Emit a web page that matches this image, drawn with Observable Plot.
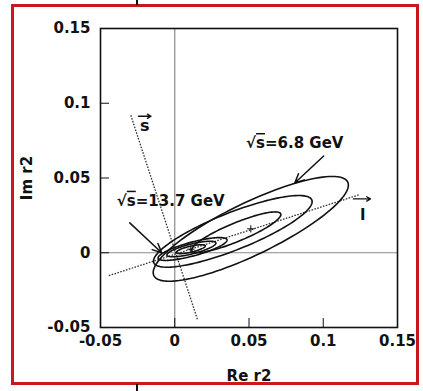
<!DOCTYPE html>
<html>
<head>
<meta charset="utf-8">
<script src="https://cdn.jsdelivr.net/npm/d3@7"></script>
<script src="https://cdn.jsdelivr.net/npm/@observablehq/plot@0.6"></script>
<style>
  html, body { margin: 0; padding: 0; background: #fff; }
  #wrap { position: relative; width: 423px; height: 391px; overflow: hidden; background: #fff; }
  #wrap svg { position: absolute; left: 0; top: 0; }
  #border { position: absolute; left: 11px; top: 4px; width: 402px; height: 375px; border: 3px solid #c8181e; pointer-events: none; }
  .nick { position: absolute; left: 136px; width: 2px; background: #111; }
</style>
</head>
<body>
<div id="wrap">
  <div id="border"></div>
  <div class="nick" style="top:0;height:5px"></div>
  <div class="nick" style="top:384px;height:7px"></div>
</div>
<script>
// Axis ticks
const xTicks = [-0.05, 0, 0.05, 0.1, 0.15];
const yTicks = [-0.05, 0, 0.05, 0.1, 0.15];

// Confidence contours as tilted ellipses: centre, semi-axes, tilt (degrees)
const contourEnergy = ["6.8", "6.8", "6.8", "13.7", "13.7", "13.7"];
const contourCx   = [0.0512, 0.0391, 0.0414, 0.0120, 0.0112, 0.0108];
const contourCy   = [0.0160, 0.0143, 0.0137, 0.0025, 0.0025, 0.0024];
const contourA    = [0.0724, 0.0572, 0.0324, 0.0240, 0.0170, 0.0100];
const contourB    = [0.0175, 0.0125, 0.0062, 0.0046, 0.0033, 0.0020];
const contourTilt = [25.6, 21.5, 22.4, 15.0, 14.0, 13.0];

// Best-fit points
const bestRe = [0.0512, 0.0108];
const bestIm = [0.0160, 0.0024];

// Directions of the s and l vectors (dotted lines)
const dirName = ["s", "l"];
const dirX1 = [-0.0296, -0.0444];
const dirY1 = [0.0920, -0.0153];
const dirX2 = [0.0155, 0.1239];
const dirY2 = [-0.0453, 0.0387];

// Energy annotations and their pointers
const noteText = ["√s=6.8 GeV", "√s=13.7 GeV"];
const noteX = [0.0808, -0.0027];
const noteY = [0.0733, 0.0347];
const pointerX1 = [0.1003, -0.0303];
const pointerY1 = [0.0647, 0.0200];
const pointerX2 = [0.0808, -0.0088];
const pointerY2 = [0.0467, 0.0000];

// Vector labels: letter position and the small arrow above it
const vecLetter = ["s", "l"];
const vecX = [-0.0202, 0.1266];
const vecY = [0.0847, 0.0253];
const vecArrowX1 = [-0.0244, 0.1203];
const vecArrowX2 = [-0.0160, 0.1318];
const vecArrowY = [0.0913, 0.0360];

// Sample each ellipse outline
const contourPts = [];
contourCx.forEach((cx, i) => {
  const th = contourTilt[i] * Math.PI / 180;
  const a = contourA[i], b = contourB[i], cy = contourCy[i];
  for (let k = 0; k <= 120; k++) {
    const t = 2 * Math.PI * k / 120;
    contourPts.push({
      id: i,
      energy: contourEnergy[i],
      x: cx + a * Math.cos(t) * Math.cos(th) - b * Math.sin(t) * Math.sin(th),
      y: cy + a * Math.cos(t) * Math.sin(th) + b * Math.sin(t) * Math.cos(th)
    });
  }
});

const dirs = dirName.map((n, i) => ({n, x1: dirX1[i], y1: dirY1[i], x2: dirX2[i], y2: dirY2[i]}));
const notes = noteText.map((t, i) => ({t, x: noteX[i], y: noteY[i]}));
const pointers = pointerX1.map((x1, i) => ({x1, y1: pointerY1[i], x2: pointerX2[i], y2: pointerY2[i]}));
const vecs = vecLetter.map((t, i) => ({t, x: vecX[i], y: vecY[i], x1: vecArrowX1[i], x2: vecArrowX2[i], ya: vecArrowY[i]}));
const best = bestRe.map((x, i) => ({x, y: bestIm[i]}));

const fmt = d => String(+d.toFixed(2));
const font = "DejaVu Sans, Verdana, sans-serif";

const chart = Plot.plot({
  width: 423,
  height: 391,
  marginLeft: 100,
  marginRight: 26,
  marginTop: 28,
  marginBottom: 64,
  style: {fontFamily: font, background: "transparent", color: "#111"},
  x: {domain: [-0.05, 0.15]},
  y: {domain: [-0.05, 0.15]},
  marks: [
    Plot.ruleX([0], {stroke: "#8a8a8a", strokeWidth: 1.2}),
    Plot.ruleY([0], {stroke: "#8a8a8a", strokeWidth: 1.2}),
    Plot.link(dirs, {x1: "x1", y1: "y1", x2: "x2", y2: "y2", stroke: "#333", strokeWidth: 1.3, strokeDasharray: "1.6,1.4"}),
    Plot.line(contourPts, {x: "x", y: "y", z: "id", stroke: "#111", strokeWidth: 1.6, curve: "linear-closed"}),
    Plot.dot(best, {x: "x", y: "y", symbol: "plus", r: 2.5, stroke: "#111", strokeWidth: 1}),
    Plot.arrow(pointers, {x1: "x1", y1: "y1", x2: "x2", y2: "y2", stroke: "#111", strokeWidth: 1.5, headLength: 10, headAngle: 50}),
    Plot.text(notes, {x: "x", y: "y", text: "t", fontSize: 15, fontWeight: "bold", fill: "#111", textAnchor: "middle"}),
    Plot.arrow(vecs, {x1: "x1", y1: "ya", x2: "x2", y2: "ya", stroke: "#111", strokeWidth: 1.3, headLength: 5, headAngle: 60}),
    Plot.text(vecs, {x: "x", y: "y", text: "t", fontSize: 16, fontWeight: "bold", fill: "#111"}),
    Plot.frame({stroke: "#111", strokeWidth: 1.6}),
    Plot.axisX({ticks: xTicks, tickSize: -9, tickFormat: null, text: null}),
    Plot.axisX({ticks: xTicks, tickSize: 0, tickPadding: 8, tickFormat: fmt, fontSize: 15, fontWeight: "bold",
                label: "Re r2", labelAnchor: "center", labelArrow: "none", labelOffset: 53}),
    Plot.axisY({ticks: yTicks, tickSize: -9, tickFormat: null, text: null}),
    Plot.axisY({ticks: yTicks, tickSize: 0, tickPadding: 10, tickFormat: fmt, fontSize: 15, fontWeight: "bold",
                label: "Im r2", labelAnchor: "center", labelArrow: "none", labelOffset: 79})
  ]
});

// Overline the radicand of √s
d3.select(chart).selectAll("text").each(function() {
  const s = this.textContent;
  if (s.startsWith("√s=")) {
    const el = d3.select(this);
    const rest = s.slice(2);
    el.text(null);
    el.append("tspan").text("√");
    el.append("tspan").style("text-decoration", "overline").text("s");
    el.append("tspan").text(rest);
  }
});
d3.select(chart).selectAll("[aria-label='x-axis label'] text, [aria-label='y-axis label'] text")
  .style("font-size", "15px").style("font-weight", "bold");

document.getElementById("wrap").prepend(chart);
</script>
</body>
</html>
